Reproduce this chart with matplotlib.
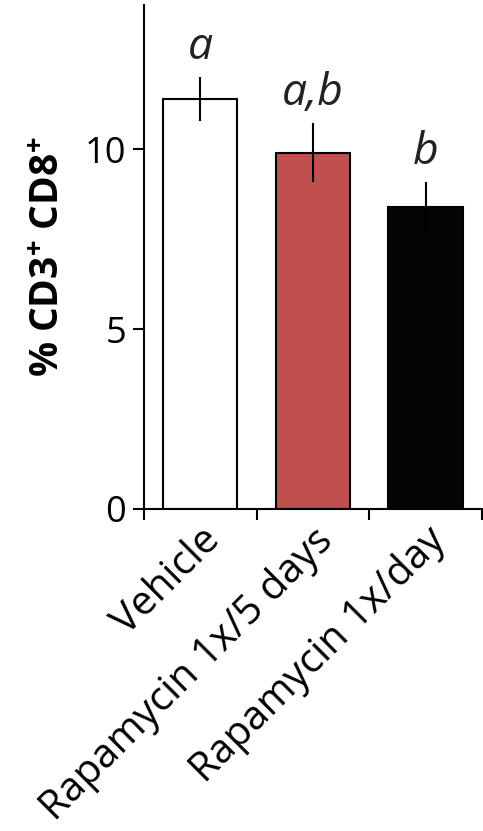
import numpy as np
import matplotlib
matplotlib.use("Agg")
import matplotlib.pyplot as plt

groups = ["Vehicle", "Rapamycin 1x/5 days", "Rapamycin 1x/day"]
means = [11.4, 9.9, 8.4]
errs = [0.62, 0.82, 0.7]
letters = ["a", "a,b", "b"]
colors = ["white", "#C0504D", "#050505"]

plt.rcParams['font.family'] = ['Open Sans', 'DejaVu Sans']
plt.rcParams['mathtext.fontset'] = 'custom'
plt.rcParams['mathtext.rm'] = 'Open Sans'
plt.rcParams['mathtext.bf'] = 'Open Sans:bold'

fig = plt.figure(figsize=(4.83, 8.31), dpi=100)
ax = fig.add_axes([0.298, 0.3875, 0.70, 0.606])

x = np.arange(len(groups))
ax.bar(x, means, width=0.66, color=colors, edgecolor="black", linewidth=1.5, zorder=2)
ax.errorbar(x, means, yerr=errs, fmt="none", ecolor="black", elinewidth=1.5,
            capsize=0, zorder=3)

for xi, m, e, lab in zip(x, means, errs, letters):
    ax.annotate(lab, (xi, m + e), xytext=(0, 5), textcoords="offset points",
                ha="center", va="bottom", fontsize=32, style="italic", color="#222222")

ax.set_xlim(-0.5, 2.5)
ax.set_ylim(0, 14)
ax.set_yticks([0, 5, 10])
ax.set_xticks([-0.5, 0.5, 1.5, 2.5])
ax.set_xticklabels([])
ax.set_xticks(x, minor=True)
ax.set_xticklabels(groups, minor=True, rotation=45, ha="right", rotation_mode="anchor")
ax.tick_params(axis="x", which="minor", length=0, pad=8, labelsize=29)
ax.tick_params(axis="x", which="major", length=8, width=1.5, direction="out")
ax.tick_params(axis="y", length=8, width=1.5, direction="out", labelsize=26, pad=5)

for side in ["top", "right"]:
    ax.spines[side].set_visible(False)
for side in ["left", "bottom"]:
    ax.spines[side].set_linewidth(1.5)

ax.set_ylabel(r"% CD3$^{\mathbf{+}}$ CD8$^{\mathbf{+}}$", fontsize=28, fontweight="bold", labelpad=12)

fig.savefig("out.png", dpi=100)
